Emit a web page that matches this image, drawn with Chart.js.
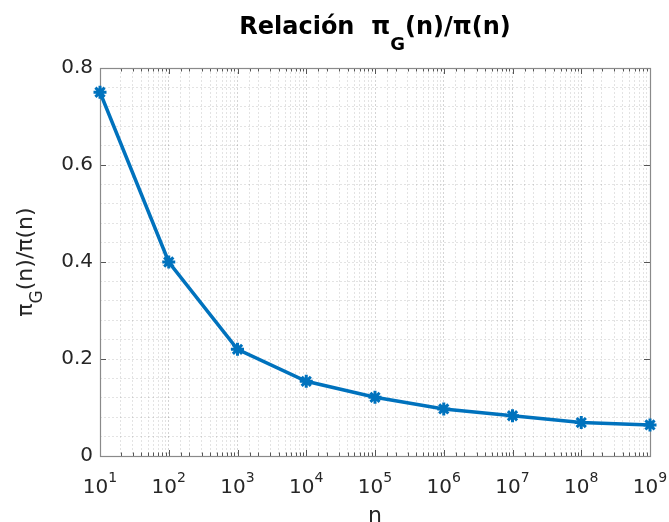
<!DOCTYPE html>
<html>
<head>
<meta charset="utf-8">
<script src="https://cdn.jsdelivr.net/npm/chart.js@4/dist/chart.umd.min.js"></script>
<style>
  html, body { margin: 0; padding: 0; background: #fff; }
  #wrap { position: relative; width: 669px; height: 522px; overflow: hidden; }
  #c { position: absolute; left: 0; top: 0; }
  #title { position: absolute; left: 100px; width: 550px; top: 12px; line-height: 26px;
           text-align: center; font: bold 24px "DejaVu Sans"; color: #000; white-space: pre; }
  #title sub { font-size: 18px; vertical-align: -16px; line-height: 0; }
  #ylab { position: absolute; left: -123px; top: 247px; width: 300px; height: 30px; line-height: 30px;
          text-align: center; font: 22px "DejaVu Sans"; color: #262626; white-space: pre;
          transform: rotate(-90deg); transform-origin: 50% 50%; }
  #ylab sub { font-size: 17px; vertical-align: -10px; line-height: 0; }
</style>
</head>
<body>
<div id="wrap">
  <canvas id="c" width="669" height="522"></canvas>
  <div id="title">Relación  π<sub>G</sub>(n)/π(n)</div>
  <div id="ylab">π<sub>G</sub>(n)/π(n)</div>
</div>
<script>
// ---- data ----
const nValues = [1e1, 1e2, 1e3, 1e4, 1e5, 1e6, 1e7, 1e8, 1e9];
const ratioValues = [0.75, 0.40, 0.22, 0.154, 0.121, 0.097, 0.083, 0.069, 0.064];
const yTickLabels = ['0', '0.2', '0.4', '0.6', '0.8'];
const xTickBase = '10';
const xTickExponents = ['1', '2', '3', '4', '5', '6', '7', '8', '9'];
const xAxisTitle = 'n';

const isDecade = v => { const e = Math.log10(v); return Math.abs(e - Math.round(e)) < 1e-9; };
const isYMajor = v => Math.abs(v * 5 - Math.round(v * 5)) < 1e-6;

const boxPlugin = {
  id: 'matlabBox',
  beforeDatasetsDraw(chart) {
    const { ctx, chartArea: a, scales } = chart;
    ctx.save();
    ctx.strokeStyle = '#555';
    ctx.lineWidth = 1;
    scales.x.ticks.forEach(t => {
      const px = Math.round(scales.x.getPixelForValue(t.value)) + 0.5;
      const len = isDecade(t.value) ? 6 : 3.5;
      ctx.beginPath();
      ctx.moveTo(px, a.bottom); ctx.lineTo(px, a.bottom - len);
      ctx.moveTo(px, a.top); ctx.lineTo(px, a.top + len);
      ctx.stroke();
    });
    scales.y.ticks.forEach(t => {
      if (!isYMajor(t.value)) return;
      const py = Math.round(scales.y.getPixelForValue(t.value)) + 0.5;
      ctx.beginPath();
      ctx.moveTo(a.left, py); ctx.lineTo(a.left + 6, py);
      ctx.moveTo(a.right, py); ctx.lineTo(a.right - 6, py);
      ctx.stroke();
    });
    ctx.strokeStyle = '#8a8a8a';
    ctx.lineWidth = 1.2;
    ctx.strokeRect(Math.round(a.left) + 0.5, Math.round(a.top) + 0.5,
                   Math.round(a.right - a.left), Math.round(a.bottom - a.top));
    ctx.restore();
  },
  afterDraw(chart) {
    // decade tick labels with superscript exponent, placed by the x scale
    const { ctx, chartArea: a, scales } = chart;
    ctx.save();
    ctx.fillStyle = '#262626';
    ctx.textBaseline = 'alphabetic';
    ctx.textAlign = 'left';
    scales.x.ticks.forEach(t => {
      if (!isDecade(t.value)) return;
      const e = Math.round(Math.log10(t.value));
      const exp = xTickExponents[e - 1];
      const px = scales.x.getPixelForValue(t.value);
      ctx.font = '20px "DejaVu Sans"';
      const wb = ctx.measureText(xTickBase).width;
      ctx.font = '14px "DejaVu Sans"';
      const we = ctx.measureText(exp).width;
      const x0 = px - (wb + we) / 2;
      ctx.font = '20px "DejaVu Sans"';
      ctx.fillText(xTickBase, x0, a.bottom + 37);
      ctx.font = '14px "DejaVu Sans"';
      ctx.fillText(exp, x0 + wb, a.bottom + 26);
    });
    ctx.restore();
  }
};

new Chart(document.getElementById('c'), {
  type: 'line',
  data: {
    datasets: [{
      data: nValues.map((n, i) => ({ x: n, y: ratioValues[i] })),
      borderColor: '#0072BD',
      backgroundColor: '#0072BD',
      borderWidth: 3.5,
      pointStyle: 'star',
      pointRadius: 6.5,
      pointBorderWidth: 3,
      pointBorderColor: '#0072BD',
      pointBackgroundColor: '#0072BD',
      tension: 0,
      fill: false,
      clip: false
    }]
  },
  options: {
    responsive: false,
    animation: false,
    devicePixelRatio: 1,
    layout: { padding: { top: 68, right: 19, left: 0, bottom: 0 } },
    plugins: { legend: { display: false }, tooltip: { enabled: false }, title: { display: false } },
    scales: {
      x: {
        type: 'logarithmic',
        position: 'bottom',
        min: 10, max: 1e9,
        afterFit: s => { s.height = 66; s.paddingLeft = 0; s.paddingRight = 0; },
        grid: {
          drawTicks: false,
          color: ctx => isDecade(ctx.tick.value) ? 'rgba(0,0,0,0.17)' : 'rgba(0,0,0,0.11)',
          lineWidth: 1
        },
        border: { display: false, dash: [2, 2] },
        ticks: {
          display: false,
          autoSkip: false, maxRotation: 0, minRotation: 0
        },
        title: {
          display: true, text: xAxisTitle, color: '#262626',
          font: { family: 'DejaVu Sans', size: 22 },
          padding: { top: 0, bottom: -7 }
        }
      },
      y: {
        min: 0, max: 0.8,
        afterFit: s => { s.width = 100; s.paddingTop = 0; s.paddingBottom = 0; },
        grid: {
          drawTicks: false,
          color: 'rgba(0,0,0,0.11)',
          lineWidth: 1
        },
        border: { display: false, dash: [2, 2] },
        ticks: {
          stepSize: 0.04, autoSkip: false,
          padding: 7,
          color: '#262626',
          font: { family: 'DejaVu Sans', size: 20 },
          callback: v => isYMajor(v) ? yTickLabels[Math.round(v * 5)] : ''
        }
      }
    }
  },
  plugins: [boxPlugin]
});
</script>
</body>
</html>
